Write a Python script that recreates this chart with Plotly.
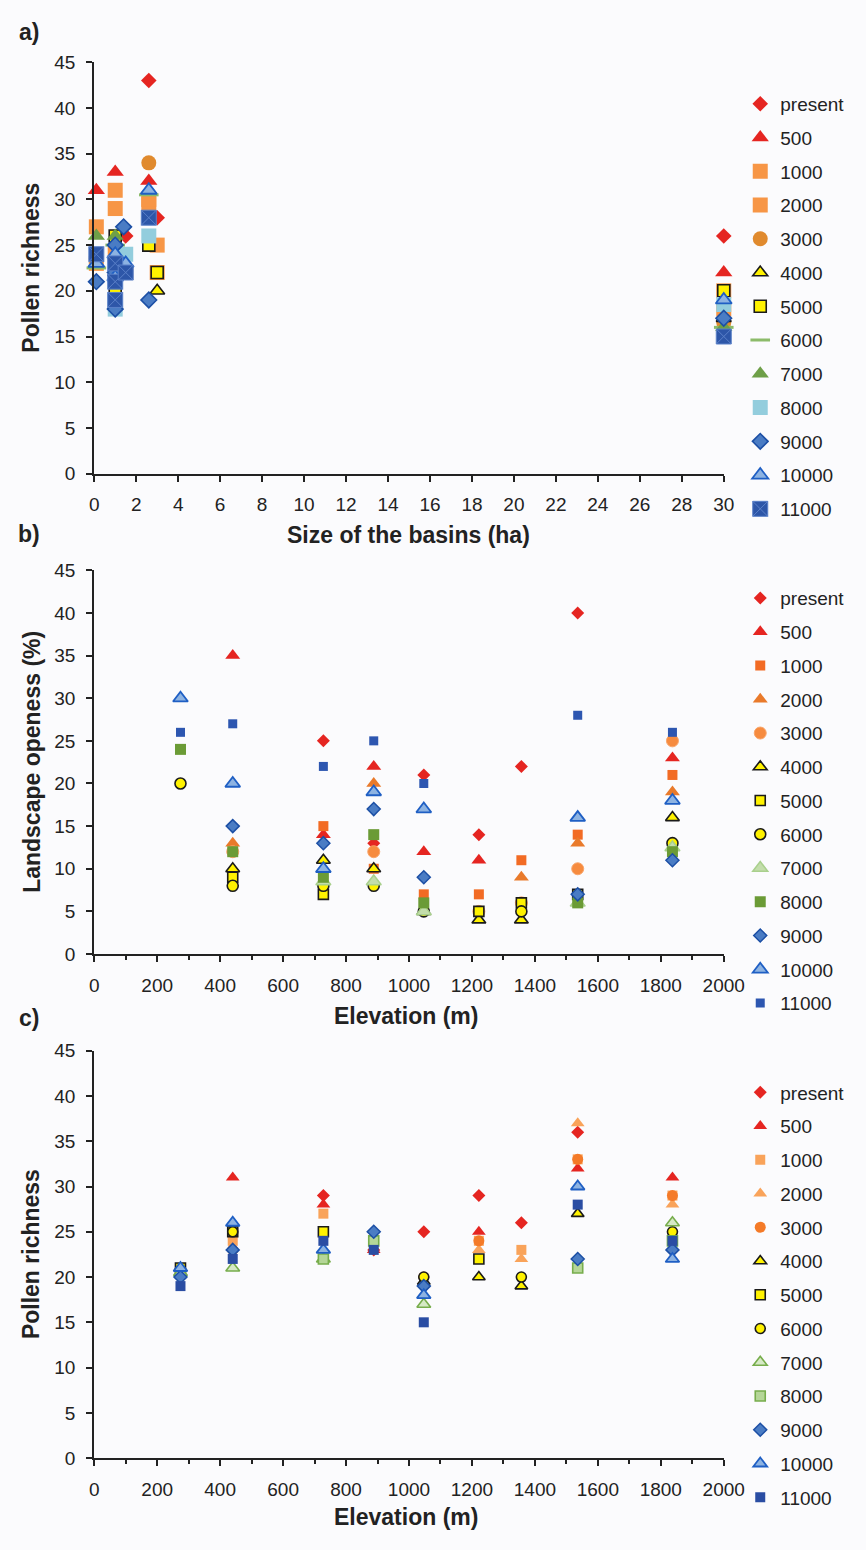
import plotly.graph_objects as go

W, H = 866, 1550
SERIES = ["present", "500", "1000", "2000", "3000", "4000", "5000",
          "6000", "7000", "8000", "9000", "10000", "11000"]

# ---------------- Panel a: pollen richness vs size of the basins (ha) ----------------
A_PRESENT = [(1.5, 26), (2.6, 43), (3.0, 28), (30, 26)]
A_500 = [(0.1, 31), (1.0, 33), (2.6, 32), (30, 22)]
A_1000 = [(0.1, 27), (1.0, 31), (1.0, 24), (2.6, 29.5), (3.0, 25), (30, 20)]
A_2000 = [(0.1, 23), (1.0, 29), (1.5, 22), (2.6, 30), (3.0, 22), (30, 18)]
A_3000 = [(0.1, 23.5), (2.6, 34), (30, 16.5)]
A_4000 = [(1.0, 22), (3.0, 20), (30, 17)]
A_5000 = [(1.0, 26), (1.0, 20), (2.6, 25), (3.0, 22), (30, 20)]
A_6000 = [(0.1, 22.5), (1.0, 25), (2.6, 30.5), (30, 16)]
A_7000 = [(0.1, 26), (1.0, 26), (2.6, 31), (30, 16)]
A_8000 = [(1.0, 18), (1.5, 24), (2.6, 26), (30, 18.5)]
A_9000 = [(0.1, 21), (1.0, 25), (1.0, 22), (1.0, 18), (1.4, 27), (2.6, 19), (30, 17)]
A_10000 = [(0.1, 23), (1.0, 24), (1.0, 21.5), (1.5, 23), (2.6, 31), (30, 19)]
A_11000 = [(0.1, 24), (1.0, 23), (1.0, 21), (1.0, 19), (1.5, 22), (2.6, 28), (30, 15)]

# ---------------- Panel b: landscape openess (%) vs elevation (m) ----------------
B_PRESENT = [(728, 25), (888, 13), (1047, 21), (1222, 14), (1357, 22), (1536, 40)]
B_500 = [(440, 35), (728, 14), (888, 22), (1047, 12), (1222, 11), (1837, 23)]
B_1000 = [(728, 15), (888, 10), (1047, 7), (1222, 7), (1357, 11), (1536, 14), (1837, 21)]
B_2000 = [(440, 13), (888, 20), (1357, 9), (1536, 13), (1837, 19)]
B_3000 = [(440, 12), (888, 12), (1222, 5), (1357, 6), (1536, 10), (1837, 25)]
B_4000 = [(440, 10), (728, 11), (888, 10), (1047, 5), (1222, 4), (1357, 4), (1837, 16)]
B_5000 = [(440, 9), (728, 7), (1222, 5), (1357, 6), (1536, 7)]
B_6000 = [(274, 20), (440, 8), (728, 8), (888, 8), (1047, 5), (1357, 5), (1837, 13)]
B_7000 = [(728, 8.5), (888, 8.5), (1047, 5), (1536, 6), (1837, 12.5)]
B_8000 = [(274, 24), (440, 12), (728, 9), (888, 14), (1047, 6), (1536, 6), (1837, 12)]
B_9000 = [(440, 15), (728, 13), (888, 17), (1047, 9), (1536, 7), (1837, 11)]
B_10000 = [(274, 30), (440, 20), (728, 10), (888, 19), (1047, 17), (1536, 16), (1837, 18)]
B_11000 = [(274, 26), (440, 27), (728, 22), (888, 25), (1047, 20), (1536, 28), (1837, 26)]

# ---------------- Panel c: pollen richness vs elevation (m) ----------------
C_PRESENT = [(728, 29), (888, 23), (1047, 25), (1222, 29), (1357, 26), (1536, 36)]
C_500 = [(440, 31), (728, 28), (888, 23), (1222, 25), (1536, 32), (1837, 31)]
C_1000 = [(440, 24), (728, 27), (1222, 24), (1357, 23), (1536, 33), (1837, 29)]
C_2000 = [(1222, 23), (1357, 22), (1536, 37), (1837, 28)]
C_3000 = [(440, 23), (1047, 20), (1222, 24), (1536, 33), (1837, 29)]
C_4000 = [(274, 21), (1047, 19.5), (1222, 20), (1357, 19), (1536, 27)]
C_5000 = [(274, 21), (440, 25), (728, 25), (1222, 22)]
C_6000 = [(440, 25), (1047, 20), (1357, 20), (1837, 25)]
C_7000 = [(274, 20.5), (440, 21), (728, 22), (1047, 17), (1837, 26)]
C_8000 = [(728, 22), (888, 24), (1536, 21), (1837, 24)]
C_9000 = [(274, 20), (440, 23), (888, 25), (1047, 19), (1536, 22), (1837, 23)]
C_10000 = [(274, 21), (440, 26), (728, 23), (1047, 18), (1536, 30), (1837, 22)]
C_11000 = [(274, 19), (440, 22), (728, 24), (888, 23), (1047, 15), (1536, 28), (1837, 24)]

A_DATA = [A_PRESENT, A_500, A_1000, A_2000, A_3000, A_4000, A_5000,
          A_6000, A_7000, A_8000, A_9000, A_10000, A_11000]
B_DATA = [B_PRESENT, B_500, B_1000, B_2000, B_3000, B_4000, B_5000,
          B_6000, B_7000, B_8000, B_9000, B_10000, B_11000]
C_DATA = [C_PRESENT, C_500, C_1000, C_2000, C_3000, C_4000, C_5000,
          C_6000, C_7000, C_8000, C_9000, C_10000, C_11000]

RED = "#E52521"
YEL = "#FFF200"
BLK = "#1a1a1a"
# (symbol, fill, line colour, line width, size)
A_STYLE = [
    ("diamond", RED, RED, 0, 12),
    ("triangle-up", RED, RED, 0, 15),
    ("square", "#F79646", "#F79646", 0, 15),
    ("square", "#F79646", "#F79646", 0, 15),
    ("circle", "#E08A2E", "#E08A2E", 0, 15),
    ("triangle-up", YEL, BLK, 1.6, 13),
    ("square", YEL, BLK, 1.6, 12),
    ("line-ew", "#8CBB6A", "#8CBB6A", 3, 14),
    ("triangle-up", "#6E9F48", "#6E9F48", 0, 15),
    ("square", "#93CDDD", "#93CDDD", 0, 15),
    ("diamond", "#4A7CC4", "#1C4FA5", 1.6, 12),
    ("triangle-up", "#8DB3E2", "#1F5FC4", 1.8, 14),
    ("square-x", "#2D56A8", "#5A80C8", 1, 15),
]
B_STYLE = [
    ("diamond", RED, RED, 0, 10),
    ("triangle-up", RED, RED, 0, 13),
    ("square", "#F26B24", "#F26B24", 0, 10),
    ("triangle-up", "#E97A2B", "#E97A2B", 0, 13),
    ("circle", "#F68B3F", "#F9A56A", 1, 12),
    ("triangle-up", YEL, BLK, 1.6, 12),
    ("square", YEL, BLK, 1.6, 10),
    ("circle", YEL, BLK, 1.6, 11),
    ("triangle-up", "#C3DDAB", "#A9D08D", 1.5, 13),
    ("square", "#6B9B36", "#6B9B36", 0, 11),
    ("diamond", "#4A7CC4", "#1C4FA5", 1.5, 10),
    ("triangle-up", "#8DB3E2", "#1F5FC4", 1.8, 13),
    ("square", "#2D56B0", "#2D56B0", 0, 9),
]
C_STYLE = [
    ("diamond", RED, RED, 0, 10),
    ("triangle-up", RED, RED, 0, 12),
    ("square", "#F9A35A", "#F9A35A", 0, 10),
    ("triangle-up", "#F9A35A", "#F9A35A", 0, 12),
    ("circle", "#F47A28", "#F47A28", 0, 11),
    ("triangle-up", YEL, BLK, 1.6, 11),
    ("square", YEL, BLK, 1.6, 10),
    ("circle", YEL, BLK, 1.6, 10),
    ("triangle-up", "#D6E9C6", "#77AD4C", 1.6, 12),
    ("square", "#B5D698", "#77AD4C", 1.6, 10),
    ("diamond", "#4A7CC4", "#1C4FA5", 1.5, 10),
    ("triangle-up", "#8DB3E2", "#1F5FC4", 1.8, 12),
    ("square", "#2A4DA3", "#2A4DA3", 0, 10),
]

fig = go.Figure()
panels = [("a", A_DATA, A_STYLE, "x", "y", "legend"),
          ("b", B_DATA, B_STYLE, "x2", "y2", "legend2"),
          ("c", C_DATA, C_STYLE, "x3", "y3", "legend3")]
for tag, data, style, xa, ya, leg in panels:
    for name, pts, (sym, fill, lc, lw, sz) in zip(SERIES, data, style):
        fig.add_trace(go.Scatter(
            x=[p[0] for p in pts], y=[p[1] for p in pts],
            mode="markers", name=name, xaxis=xa, yaxis=ya, legend=leg,
            legendgroup=tag + name, cliponaxis=False,
            marker=dict(symbol=sym, color=fill, size=sz,
                        line=dict(color=lc, width=lw)),
        ))

FONT = "Liberation Sans, Arial, sans-serif"
TXT = "#222222"

def py(px):
    return 1 - px / H

def px_x(px):
    return px / W

XDOM = [px_x(92), px_x(741)]
common_axis = dict(showline=True, linecolor=TXT, linewidth=2, ticks="outside",
                   ticklen=6, tickwidth=1.5, tickcolor=TXT, showgrid=False,
                   zeroline=False, ticklabelstandoff=7,
                   tickfont=dict(family=FONT, size=19, color=TXT))

yax = dict(common_axis, range=[0, 45], dtick=5, tick0=0)
fig.update_layout(
    width=W, height=H, margin=dict(l=0, r=0, t=0, b=0),
    paper_bgcolor="#fbfbfd", plot_bgcolor="#fbfbfd",
    font=dict(family=FONT, color=TXT),
    xaxis=dict(common_axis, domain=XDOM, range=[0, 30], dtick=2, tick0=0, anchor="y"),
    yaxis=dict(yax, domain=[py(470), py(53)], anchor="x"),
    xaxis2=dict(common_axis, domain=XDOM, range=[0, 2000], dtick=200, tick0=0, anchor="y2",
                minor=dict(dtick=100, ticks="outside", ticklen=4, tickcolor=TXT)),
    yaxis2=dict(yax, domain=[py(957), py(568)], anchor="x2"),
    xaxis3=dict(common_axis, domain=XDOM, range=[0, 2000], dtick=200, tick0=0, anchor="y3",
                minor=dict(dtick=100, ticks="outside", ticklen=4, tickcolor=TXT)),
    yaxis3=dict(yax, domain=[py(1468), py(1055)], anchor="x3"),
)

leg_common = dict(font=dict(family=FONT, size=19, color=TXT), bgcolor="rgba(0,0,0,0)",
                  borderwidth=0, tracegroupgap=6.05, xanchor="left", yanchor="top",
                  traceorder="grouped", itemsizing="trace")
fig.update_layout(
    legend=dict(leg_common, x=px_x(758), y=py(76)),
    legend2=dict(leg_common, x=px_x(758), y=py(577)),
    legend3=dict(leg_common, x=px_x(758), y=py(1078)),
)

anns = []
def label(text, x, y, size=23, angle=0):
    anns.append(dict(text=text, x=px_x(x), y=py(y), xref="paper", yref="paper",
                     showarrow=False, xanchor="center", yanchor="middle", textangle=angle,
                     font=dict(family=FONT, size=size, color=TXT, weight=700)))

label("a)", 25, 22)
label("b)", 25, 531)
label("c)", 25, 1022)
label("Pollen richness", 27, 261, angle=-90)
label("Size of the basins (ha)", 416, 532)
label("Landscape openess (%)", 27, 762, angle=-90)
label("Elevation (m)", 413, 1020)
label("Pollen richness", 27, 1261, angle=-90)
label("Elevation (m)", 413, 1528)
fig.update_layout(annotations=anns)

fig.write_html("out.html")
